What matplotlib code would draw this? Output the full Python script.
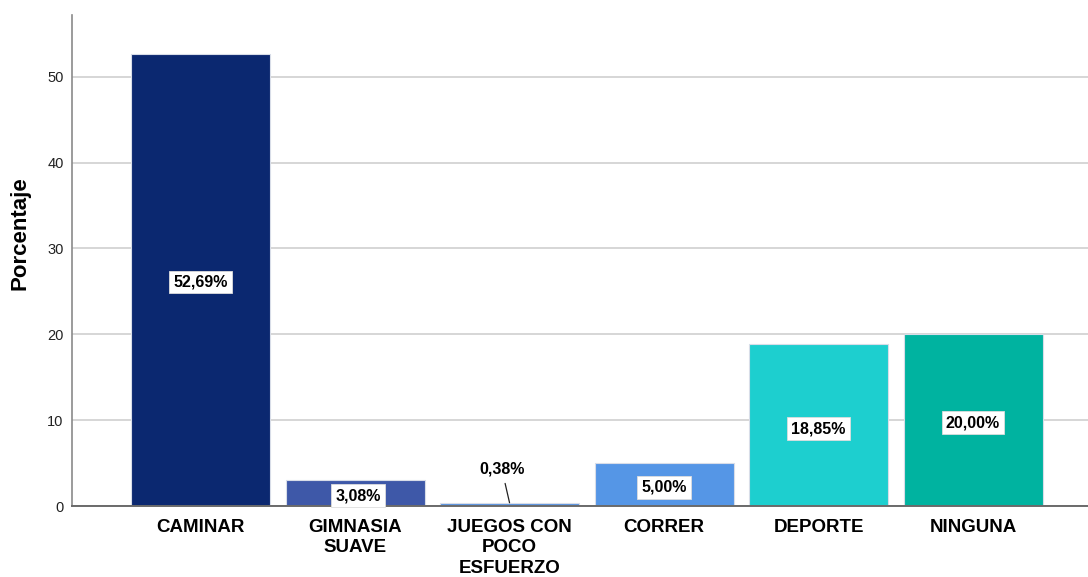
import matplotlib
matplotlib.use("Agg")
import matplotlib.pyplot as plt
from matplotlib import font_manager

categories = ["CAMINAR", "GIMNASIA\nSUAVE", "JUEGOS CON\nPOCO\nESFUERZO", "CORRER", "DEPORTE", "NINGUNA"]
values = [52.69, 3.08, 0.38, 5.00, 18.85, 20.00]
labels = ["52,69%", "3,08%", "0,38%", "5,00%", "18,85%", "20,00%"]
colors = ["#0b2870", "#3e58a8", "#5a93e0", "#5596e6", "#1dcfcf", "#00b3a0"]
yticks = [0, 10, 20, 30, 40, 50]

names = {f.name for f in font_manager.fontManager.ttflist}
narrow = "Liberation Sans Narrow" if "Liberation Sans Narrow" in names else "Liberation Sans"
plt.rcParams["font.family"] = ["Liberation Sans", "DejaVu Sans"]

fig = plt.figure(figsize=(10.88, 5.77), dpi=100)
ax = fig.add_axes([72 / 1088, 71 / 577, 1 - 72 / 1088, (506 - 15) / 577])

x = list(range(len(categories)))
ax.bar(x, values, width=0.9, color=colors, edgecolor="#d8dde8", linewidth=0.8, zorder=3)

ax.set_xlim(-0.832, 5.744)
ax.set_ylim(0, 57.2)
ax.set_yticks(yticks)
ax.set_yticklabels([str(t) for t in yticks], fontsize=10.5, color="#222222")
ax.set_xticks(x)
ax.set_xticklabels(categories, fontsize=13.5, fontweight="bold", linespacing=1.27, va="top")
ax.tick_params(axis="x", length=0, pad=9)
ax.tick_params(axis="y", length=0, pad=6)

ax.grid(axis="y", color="#cfcfcf", linewidth=1.2, zorder=0)
for side in ["top", "right"]:
    ax.spines[side].set_visible(False)
ax.spines["left"].set_color("#8a8a8a")
ax.spines["left"].set_linewidth(1.2)
ax.spines["bottom"].set_color("#6a6a6a")
ax.spines["bottom"].set_linewidth(1.4)
ax.spines["bottom"].set_zorder(4)

ax.set_ylabel("Porcentaje", fontsize=16, fontweight="bold")
ax.yaxis.set_label_coords(-0.041, 0.555)

box = dict(boxstyle="square,pad=0.25", facecolor="white", edgecolor="#dddddd", linewidth=0.6)
label_y = {0: values[0] / 2 - 0.25, 1: 1.17, 3: 2.2, 4: 9.0, 5: 9.7}
for i, (v, lab) in enumerate(zip(values, labels)):
    if i in label_y:
        ax.text(i + (0.02 if i == 1 else 0), label_y[i], lab, ha="center", va="center",
                fontsize=11.5, fontweight="bold", family=[narrow, "DejaVu Sans"],
                bbox=box, zorder=5)
    else:
        ax.annotate(lab, xy=(i, v), xytext=(i - 0.05, 4.3),
                    ha="center", va="center", fontsize=11.5, fontweight="bold",
                    family=[narrow, "DejaVu Sans"],
                    arrowprops=dict(arrowstyle="-", color="#222222", lw=0.9,
                                    shrinkA=3, shrinkB=0), zorder=5)

fig.savefig("out.png", dpi=100)
